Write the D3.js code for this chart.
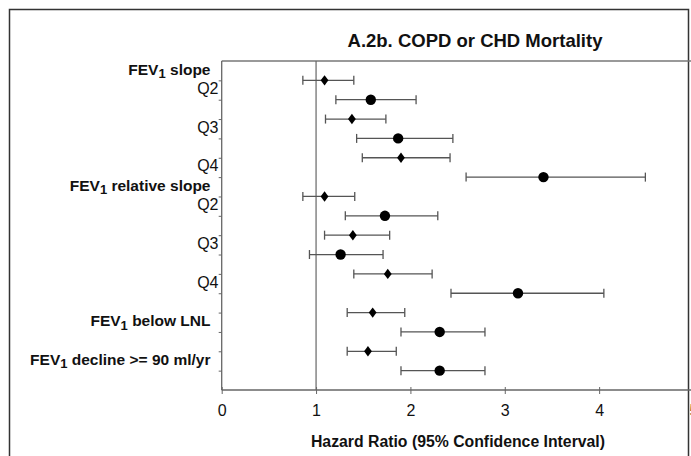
<!DOCTYPE html>
<html>
<head>
<meta charset="utf-8">
<script src="https://cdn.jsdelivr.net/npm/d3@7"></script>
<style>
  html, body { margin: 0; padding: 0; background: #fff; }
  svg text { font-family: Arial, "Liberation Sans", sans-serif; fill: #111; }
</style>
</head>
<body>
<div id="root"></div>
<script>
const title = 'A.2b. COPD or CHD Mortality';
const xTitle = 'Hazard Ratio (95% Confidence Interval)';
const xTicks = [0, 1, 2, 3, 4, 5];

// one entry per row, top to bottom; label of row i sits half a row above it
const rowLabels = ['FEV1 slope', 'Q2', '', 'Q3', '', 'Q4',
  'FEV1 relative slope', 'Q2', '', 'Q3', '', 'Q4',
  '', 'FEV1 below LNL', '', 'FEV1 decline >= 90 ml/yr'];
const rowShape = ['diamond', 'circle', 'diamond', 'circle', 'diamond', 'circle',
  'diamond', 'circle', 'diamond', 'circle', 'diamond', 'circle',
  'diamond', 'circle', 'diamond', 'circle'];
const hr    = [1.09, 1.58, 1.38, 1.87, 1.90, 3.41, 1.09, 1.73, 1.39, 1.26, 1.76, 3.14, 1.60, 2.31, 1.55, 2.31];
const lower = [0.86, 1.21, 1.10, 1.43, 1.49, 2.59, 0.86, 1.31, 1.09, 0.93, 1.40, 2.43, 1.33, 1.90, 1.33, 1.90];
const upper = [1.40, 2.06, 1.74, 2.45, 2.42, 4.49, 1.41, 2.29, 1.78, 1.71, 2.23, 4.05, 1.94, 2.79, 1.85, 2.79];

const W = 691, H = 456;
const plot = { left: 221.7, right: 693.5, top: 61, bottom: 390 };

const svg = d3.select('#root').append('svg')
  .attr('width', W)
  .attr('height', H);

// outer frame
svg.append('path')
  .attr('d', `M9.5,${H} V9.5 H688.5 V${H}`)
  .attr('fill', 'none')
  .attr('stroke', '#333')
  .attr('stroke-width', 1.5);

const x = d3.scaleLinear().domain([0, 5]).range([plot.left, plot.right]);
const y = d3.scaleLinear().domain([-1, 16]).range([plot.top, plot.bottom]);

svg.append('text')
  .attr('x', 475)
  .attr('y', 47)
  .attr('text-anchor', 'middle')
  .style('font-size', '18.5px')
  .style('font-weight', 'bold')
  .text(title);

// top border of plot
svg.append('line')
  .attr('x1', plot.left).attr('x2', W)
  .attr('y1', plot.top).attr('y2', plot.top)
  .attr('stroke', '#777').attr('stroke-width', 1.3);

// reference line at HR = 1
svg.append('line')
  .attr('x1', x(1)).attr('x2', x(1))
  .attr('y1', plot.top).attr('y2', plot.bottom)
  .attr('stroke', '#666').attr('stroke-width', 1.2);

const xAxis = d3.axisBottom(x).tickValues(xTicks).tickSize(4).tickPadding(11).tickFormat(d3.format('d'));
const gx = svg.append('g')
  .attr('transform', `translate(0, ${plot.bottom})`)
  .call(xAxis);
gx.select('.domain').attr('stroke', '#666').attr('stroke-width', 1.3).attr('d', `M${plot.left},0H${W}`);
gx.selectAll('.tick line').attr('stroke', '#666').attr('y1', -3);
gx.selectAll('.tick text')
  .style('font-size', '16px')
  .style('font-family', 'Arial, "Liberation Sans", sans-serif')
  .attr('fill', '#111');

svg.append('text')
  .attr('x', 458)
  .attr('y', 447)
  .attr('text-anchor', 'middle')
  .style('font-size', '15.8px')
  .style('font-weight', 'bold')
  .text(xTitle);

const yAxis = d3.axisLeft(y).tickValues(d3.range(rowLabels.length)).tickSize(3).tickFormat('');
const gy = svg.append('g')
  .attr('transform', `translate(${plot.left}, 0)`)
  .call(yAxis);
gy.select('.domain').attr('stroke', '#666').attr('stroke-width', 1.3).attr('d', `M0,${plot.top}V${plot.bottom}`);
gy.selectAll('.tick line').attr('stroke', '#666');

// row labels
rowLabels.forEach((lab, i) => {
  if (!lab) return;
  const bold = lab.startsWith('FEV1');
  const t = svg.append('text')
    .attr('x', bold ? 210.5 : 218.5)
    .attr('y', y(i - 0.5) + 4)
    .attr('text-anchor', 'end')
    .style('font-size', bold ? '15.5px' : '16px')
    .style('font-weight', bold ? 'bold' : 'normal')
    .attr('fill', bold ? '#111' : '#333');
  if (bold) {
    t.append('tspan').text('FEV');
    t.append('tspan').attr('dy', 3.5).style('font-size', '13px').text('1');
    t.append('tspan').attr('dy', -3.5).text(lab.slice(4));
  } else {
    t.text(lab);
  }
});

const rows = hr.map((v, i) => ({ v, lo: lower[i], hi: upper[i], shape: rowShape[i], i }));
const g = svg.append('g');

g.selectAll('line.ci')
  .data(rows)
  .join('line')
  .attr('class', 'ci')
  .attr('x1', d => x(d.lo)).attr('x2', d => x(d.hi))
  .attr('y1', d => y(d.i)).attr('y2', d => y(d.i))
  .attr('stroke', '#555').attr('stroke-width', 1.3);

['lo', 'hi'].forEach(k => {
  g.selectAll('line.cap-' + k)
    .data(rows)
    .join('line')
    .attr('class', 'cap-' + k)
    .attr('x1', d => x(d[k])).attr('x2', d => x(d[k]))
    .attr('y1', d => y(d.i) - 4.5).attr('y2', d => y(d.i) + 4.5)
    .attr('stroke', '#555').attr('stroke-width', 1.3);
});

g.selectAll('path.mark')
  .data(rows)
  .join('path')
  .attr('class', 'mark')
  .attr('transform', d => `translate(${x(d.v)}, ${y(d.i)})`)
  .attr('d', d => d.shape === 'circle'
    ? d3.symbol(d3.symbolCircle, 85)()
    : 'M0,-5.2L3.9,0L0,5.2L-3.9,0Z')
  .attr('fill', '#000');
</script>
</body>
</html>
